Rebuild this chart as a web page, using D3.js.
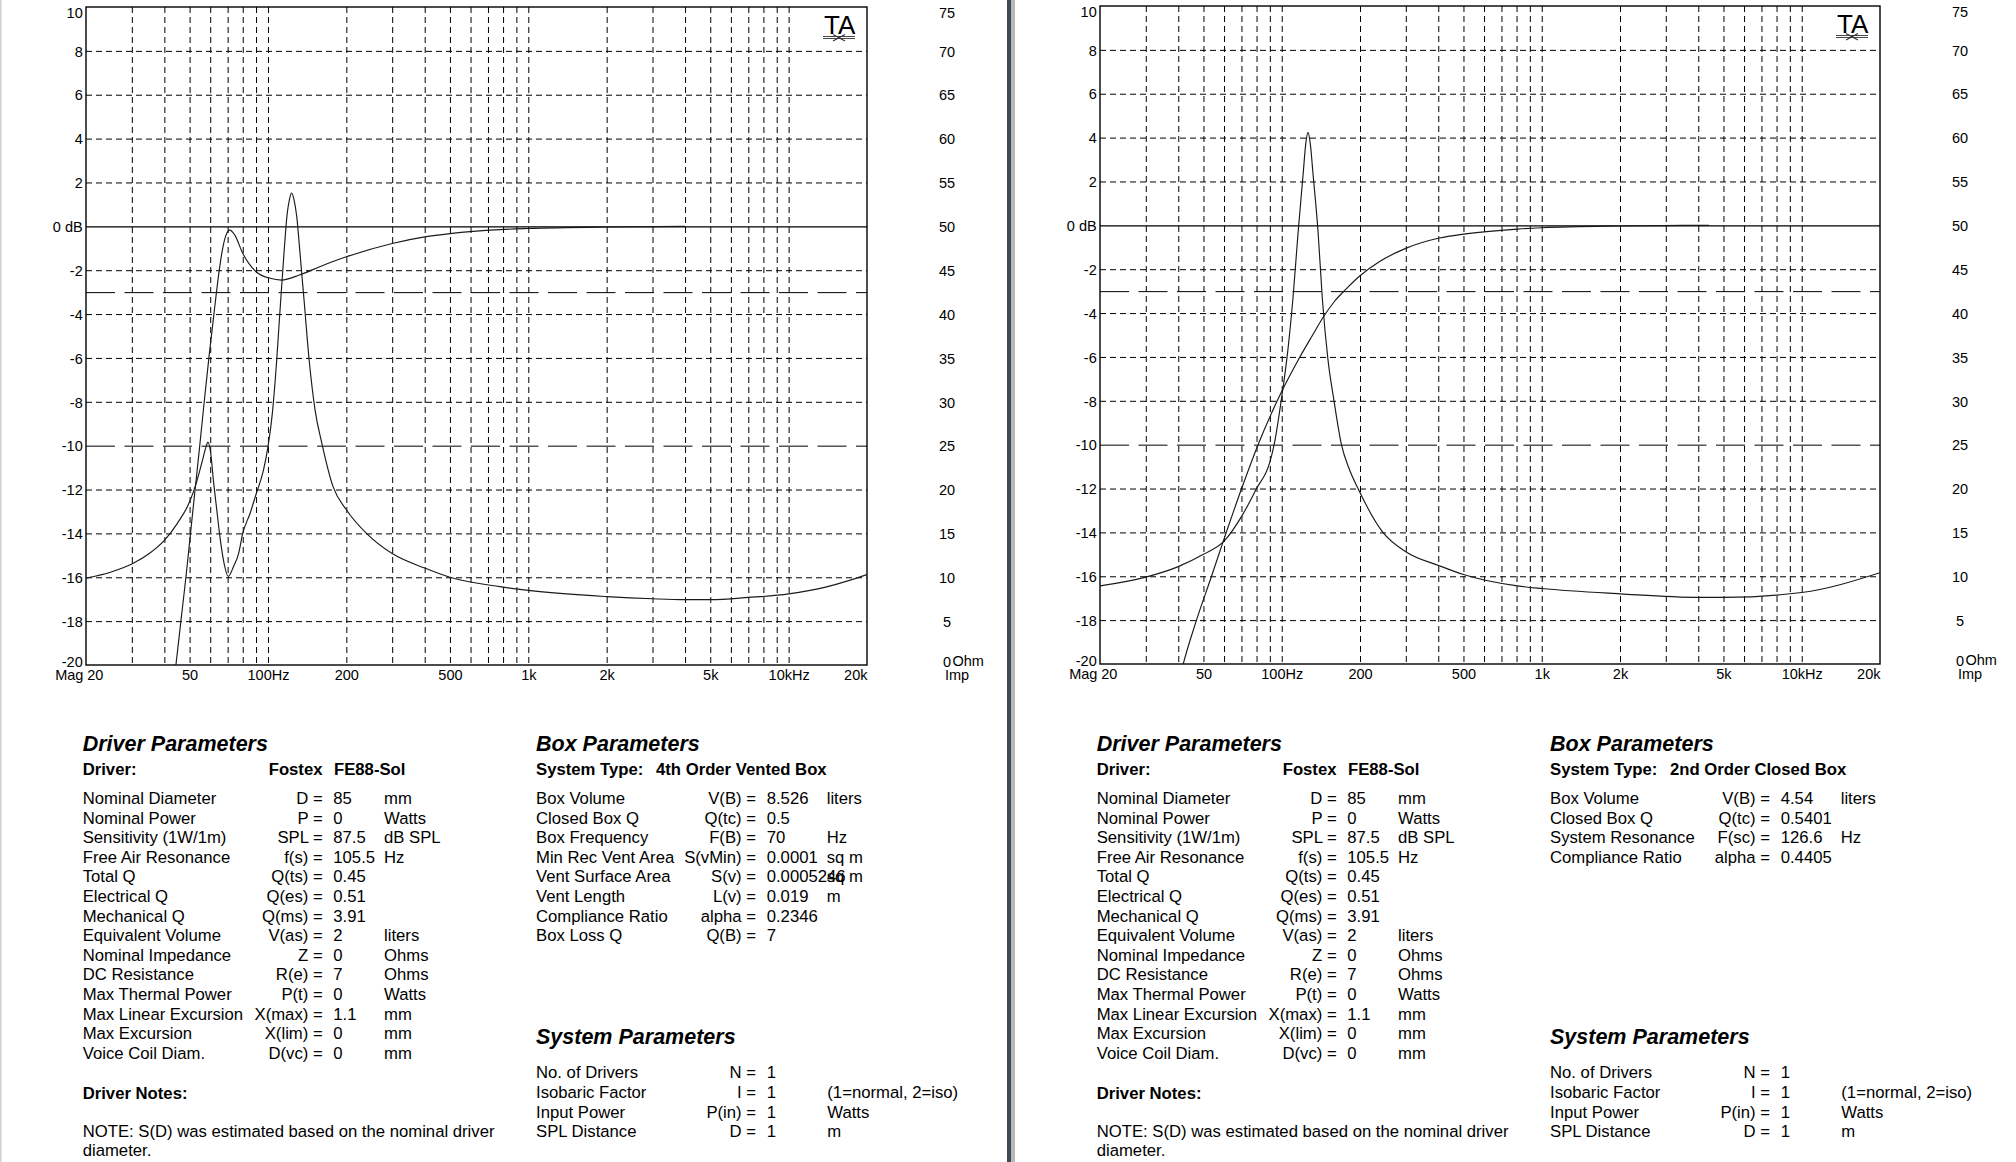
<!DOCTYPE html>
<html><head><meta charset="utf-8">
<script src="https://cdn.jsdelivr.net/npm/d3@7"></script>
<style>
html,body{margin:0;padding:0;background:#fff;}
svg{display:block;}
text{font-family:"Liberation Sans",Arial,sans-serif;fill:#000;}
</style></head><body>
<svg id="c" width="2016" height="1162"></svg>
<script>
// ---------- axis / tick data ----------
const freqTickValues = [20,50,100,200,500,1000,2000,5000,10000,20000];
const freqTickLabels = ["20","50","100Hz","200","500","1k","2k","5k","10kHz","20k"];
const freqGridValues = [30,40,50,60,70,80,90,100,200,300,400,500,600,700,800,900,1000,2000,3000,4000,5000,6000,7000,8000,9000,10000];
const dbTickValues = [10,8,6,4,2,0,-2,-4,-6,-8,-10,-12,-14,-16,-18,-20];
const dbTickLabels = ["10","8","6","4","2","0 dB","-2","-4","-6","-8","-10","-12","-14","-16","-18","-20"];
const dbGridValues = [8,6,4,2,-2,-4,-6,-8,-12,-14,-16,-18];
const dbSolidValues = [0];
const dbLongDashValues = [-3,-10];
const ohmTickValues = [75,70,65,60,55,50,45,40,35,30,25,20,15,10,5,0];
const ohmTickLabels = ["75","70","65","60","55","50","45","40","35","30","25","20","15","10","5","0"];

// ---------- series: 4th order vented box ----------
const ventedSplFreq = [42.3,44.3,46.3,48.4,50.4,52.5,54.7,56.9,59.3,62.0,65.0,67.0,69.0,71.4,74.6,80,90,102,112.7,132,158,200,300,400,500,778,1000,2000,4000];
const ventedSplDb   = [-22,-20,-18,-16,-14,-12,-10,-8,-6,-4,-2,-1.0,-0.4,-0.17,-0.4,-1.23,-2.07,-2.37,-2.45,-2.22,-1.84,-1.39,-0.78,-0.48,-0.33,-0.15,-0.1,-0.03,0];
const ventedImpFreq = [20,25,30,35,40,45,50,53,56,58,58.8,60.3,61.7,63.6,65.4,67.4,70.4,73.7,77.1,80,85.4,90.2,96.1,100,104.2,108,110.6,115.2,118.6,120.8,123.2,126,129,132.8,137.6,144,151.8,161,178,200,239,300,400,500,778,1000,2000,3000,4000,5000,7000,10000,14000,20000];
const ventedImpOhm  = [9.9,10.6,11.5,12.7,14.2,16.2,18.6,20.7,23.3,25.0,25.4,24.1,21.1,17.65,14.6,12.0,10.1,11.2,12.7,15.0,17.3,19.55,22.2,24.9,29.0,34.7,39.3,46.9,51.5,53.0,53.8,53.0,51.1,46.9,41.6,34.7,29.0,25.3,20.3,17.7,15.0,12.7,11.05,10.0,8.93,8.5,7.8,7.55,7.45,7.45,7.7,8.1,8.9,10.3];

// ---------- series: 2nd order closed box ----------
const closedSplFreq = [39,41.8,47.0,53.7,59.6,70.1,81.1,100.7,115.6,130,146,160,177,200,238,300,404,500,806,1000,2000,4400];
const closedSplDb   = [-21.5,-20,-18,-16,-14.4,-12,-10,-7.5,-6.15,-5.1,-4.1,-3.45,-2.9,-2.3,-1.65,-1.05,-0.58,-0.4,-0.17,-0.11,-0.03,0];
const closedImpFreq = [20,30,40,50,60,70,80,90,93.5,99.5,105.8,110.4,115.6,121,123.6,126.2,128.9,131.8,138,143.3,150.6,158.9,169.7,182,196.5,245,300,404,500,806,1000,2000,4000,5000,10000,20000];
const closedImpOhm  = [8.9,9.9,11.1,12.5,14.0,16.8,20.0,23.0,25.0,30.0,36.0,41.6,49.2,56.0,59.2,60.6,59.2,56.0,49.2,41.6,34.7,30.0,25.0,22.2,20.0,15.0,12.8,11.2,10.2,8.9,8.6,8.0,7.6,7.6,8.15,10.4];

// ---------- text data ----------
const driverRowLabels  = ["Nominal Diameter","Nominal Power","Sensitivity (1W/1m)","Free Air Resonance","Total Q","Electrical Q","Mechanical Q","Equivalent Volume","Nominal Impedance","DC Resistance","Max Thermal Power","Max Linear Excursion","Max Excursion","Voice Coil Diam."];
const driverRowSymbols = ["D =","P =","SPL =","f(s) =","Q(ts) =","Q(es) =","Q(ms) =","V(as) =","Z =","R(e) =","P(t) =","X(max) =","X(lim) =","D(vc) ="];
const driverRowValues  = ["85","0","87.5","105.5","0.45","0.51","3.91","2","0","7","0","1.1","0","0"];
const driverRowUnits   = ["mm","Watts","dB SPL","Hz","","","","liters","Ohms","Ohms","Watts","mm","mm","mm"];

const ventedBoxLabels  = ["Box Volume","Closed Box Q","Box Frequency","Min Rec Vent Area","Vent Surface Area","Vent Length","Compliance Ratio","Box Loss Q"];
const ventedBoxSymbols = ["V(B) =","Q(tc) =","F(B) =","S(vMin) =","S(v) =","L(v) =","alpha =","Q(B) ="];
const ventedBoxValues  = ["8.526","0.5","70","0.0001","0.0005246","0.019","0.2346","7"];
const ventedBoxUnits   = ["liters","","Hz","sq m","sq m","m","",""];

const closedBoxLabels  = ["Box Volume","Closed Box Q","System Resonance","Compliance Ratio"];
const closedBoxSymbols = ["V(B) =","Q(tc) =","F(sc) =","alpha ="];
const closedBoxValues  = ["4.54","0.5401","126.6","0.4405"];
const closedBoxUnits   = ["liters","","Hz",""];

const systemLabels  = ["No. of Drivers","Isobaric Factor","Input Power","SPL Distance"];
const systemSymbols = ["N =","I =","P(in) =","D ="];
const systemValues  = ["1","1","1","1"];
const systemUnits   = ["","(1=normal, 2=iso)","Watts","m"];

const svg = d3.select("#c");
const FONT = '"Liberation Sans",Arial,sans-serif';

// page decorations
svg.append("rect").attr("x",0).attr("y",0).attr("width",1.5).attr("height",1162).attr("fill","#cfcfcf");
svg.append("rect").attr("x",1007).attr("y",0).attr("width",4).attr("height",1162).attr("fill","#3c4b57");
svg.append("rect").attr("x",1011).attr("y",0).attr("width",4).attr("height",1162).attr("fill","#b8b8b8");

function zip(a,b){return a.map((v,i)=>({f:v,v:b[i]}));}

function drawPanel(p, idx){
  const g = svg.append("g").attr("transform",`translate(${p.ox},${p.oy})`);
  const x = d3.scaleLog().domain([20,20000]).range([0,p.w]);
  const y = d3.scaleLinear().domain([-20,10]).range([p.h,0]);
  const yO = d3.scaleLinear().domain([0,75]).range([p.h,0]);

  // vertical dashed grid
  const vg = g.append("g").call(d3.axisBottom(x).tickValues(freqGridValues).tickSize(p.h).tickFormat(""));
  vg.select(".domain").remove();
  vg.selectAll("line").attr("stroke","#000").attr("stroke-width",1).attr("stroke-dasharray","6,4");
  // horizontal dashed grid
  const hg = g.append("g").call(d3.axisLeft(y).tickValues(dbGridValues).tickSize(-p.w).tickFormat(""));
  hg.select(".domain").remove();
  hg.selectAll("line").attr("stroke","#000").attr("stroke-width",1).attr("stroke-dasharray","6,4");
  // long dash lines
  const lg = g.append("g").call(d3.axisLeft(y).tickValues(dbLongDashValues).tickSize(-p.w).tickFormat(""));
  lg.select(".domain").remove();
  lg.selectAll("line").attr("stroke","#000").attr("stroke-width",1).attr("stroke-dasharray","29,9.5");
  // solid 0 dB
  const sg = g.append("g").call(d3.axisLeft(y).tickValues(dbSolidValues).tickSize(-p.w).tickFormat(""));
  sg.select(".domain").remove();
  sg.selectAll("line").attr("stroke","#000").attr("stroke-width",1.2);

  // frame
  g.append("rect").attr("x",0).attr("y",0).attr("width",p.w).attr("height",p.h)
    .attr("fill","none").attr("stroke","#000").attr("stroke-width",1.4);

  // curves
  const cid = "clip"+idx;
  g.append("clipPath").attr("id",cid).append("rect").attr("x",0).attr("y",0).attr("width",p.w).attr("height",p.h);
  const cg = g.append("g").attr("clip-path",`url(#${cid})`);
  const lineDb = d3.line().x(d=>x(d.f)).y(d=>y(d.v)).curve(d3.curveMonotoneX);
  const lineOhm = d3.line().x(d=>x(d.f)).y(d=>yO(d.v)).curve(d3.curveMonotoneX);
  cg.append("path").attr("d",lineOhm(p.imp)).attr("fill","none").attr("stroke","#1a1a1a").attr("stroke-width",1.15);
  cg.append("path").attr("d",lineDb(p.spl)).attr("fill","none").attr("stroke","#1a1a1a").attr("stroke-width",1.15);

  // left labels
  const la = g.append("g").call(d3.axisLeft(y).tickValues(dbTickValues).tickFormat((d,i)=>dbTickLabels[i]).tickSize(0).tickPadding(3.3));
  la.attr("font-size",14.5).attr("font-family",FONT);
  la.select(".domain").remove();
  la.selectAll(".tick text").attr("fill","#000").attr("dy","0.36em")
    .attr("y",d=> d===10 ? 5.7 : (d===-20 ? -4 : 0));

  // bottom labels
  const ba = g.append("g").attr("transform",`translate(0,${p.h})`)
    .call(d3.axisBottom(x).tickValues(freqTickValues).tickFormat((d,i)=>freqTickLabels[i]).tickSize(0));
  ba.attr("font-size",14.5).attr("font-family",FONT);
  ba.select(".domain").remove();
  ba.selectAll(".tick text").attr("fill","#000").attr("dy",null).attr("y",15.4)
    .attr("text-anchor",d=> d===20 ? "start" : (d===20000 ? "end" : "middle"))
    .attr("x",d=> d===20 ? 0.8 : 0);
  g.append("text").attr("x",-2.6).attr("y",p.h+15.4).attr("text-anchor","end").attr("font-size",14.5).text("Mag");

  // right labels
  const ra = g.append("g").attr("transform",`translate(${p.w},0)`)
    .call(d3.axisRight(yO).tickValues(ohmTickValues).tickFormat((d,i)=>ohmTickLabels[i]).tickSize(0));
  ra.attr("font-size",14.5).attr("font-family",FONT);
  ra.select(".domain").remove();
  ra.selectAll(".tick text").attr("fill","#000").attr("dy","0.36em").attr("x",80).attr("text-anchor","middle")
    .attr("y",d=> d===75 ? 5.7 : (d===0 ? -4 : 0));
  g.append("text").attr("x",p.w+85.5).attr("y",p.h-4).attr("dy","0.36em").attr("font-size",14.5).text("Ohm");
  g.append("text").attr("x",p.w+78).attr("y",p.h+15.4).attr("font-size",14.5).text("Imp");

  // TA logo
  const lx = p.w-43, ly = 8;
  g.append("text").attr("x",lx).attr("y",ly+19).attr("font-family",'"Liberation Serif","Times New Roman",serif')
    .attr("font-size",26).attr("fill","#222").text("TA");
  g.append("line").attr("x1",lx-1).attr("x2",lx+31).attr("y1",ly+21.5).attr("y2",ly+21.5).attr("stroke","#333").attr("stroke-width",0.9);
  g.append("line").attr("x1",lx-1).attr("x2",lx+31).attr("y1",ly+23.5).attr("y2",ly+23.5).attr("stroke","#333").attr("stroke-width",0.9);
  g.append("line").attr("x1",lx+9).attr("x2",lx+21).attr("y1",ly+19.5).attr("y2",ly+26).attr("stroke","#333").attr("stroke-width",1.1);
  g.append("line").attr("x1",lx+9).attr("x2",lx+21).attr("y1",ly+26).attr("y2",ly+19.5).attr("stroke","#333").attr("stroke-width",1.1);
}

function drawText(t){
  const dx = t.dx;
  const g = svg.append("g").attr("transform",`translate(${dx},0)`).attr("font-family",FONT);
  const title = (x,yb,s)=> g.append("text").attr("x",x).attr("y",yb).attr("font-size",21.5)
     .attr("font-weight","bold").attr("font-style","italic").text(s);
  const bold = (x,yb,s,anchor)=> g.append("text").attr("x",x).attr("y",yb).attr("font-size",16.7)
     .attr("font-weight","bold").attr("text-anchor",anchor||"start").text(s);
  const reg = (x,yb,s,anchor)=> g.append("text").attr("x",x).attr("y",yb).attr("font-size",16.7)
     .attr("text-anchor",anchor||"start").text(s);
  const rows = (labels,syms,vals,units,lx,sx,vx,ux,y0)=>{
    labels.forEach((l,i)=>{
      const yb = y0 + i*19.6;
      reg(lx,yb,l); reg(sx,yb,syms[i],"end"); reg(vx,yb,vals[i]); if(units[i]) reg(ux,yb,units[i]);
    });
  };
  // Driver column
  title(82.7,750.5,"Driver Parameters");
  bold(82.7,775,"Driver:");
  bold(322.5,775,"Fostex","end");
  bold(334,775,"FE88-Sol");
  rows(driverRowLabels,driverRowSymbols,driverRowValues,driverRowUnits,82.7,322.7,333.3,384,804);
  bold(82.7,1098.6,"Driver Notes:");
  reg(82.7,1136.5,"NOTE: S(D) was estimated based on the nominal driver");
  reg(82.7,1155.5,"diameter.");
  // Box column
  title(536,750.5,"Box Parameters");
  bold(536,775,"System Type:");
  bold(656,775,t.systemType);
  rows(t.boxLabels,t.boxSymbols,t.boxValues,t.boxUnits,536,756,766.7,826.7,804);
  title(536,1043.5,"System Parameters");
  rows(systemLabels,systemSymbols,systemValues,systemUnits,536,756,766.7,827.3,1078.4);
}

drawPanel({ox:86, oy:7, w:781, h:658, spl:zip(ventedSplFreq,ventedSplDb), imp:zip(ventedImpFreq,ventedImpOhm)},0);
drawPanel({ox:1100, oy:6, w:780, h:658, spl:zip(closedSplFreq,closedSplDb), imp:zip(closedImpFreq,closedImpOhm)},1);

drawText({dx:0, systemType:"4th Order Vented Box", boxLabels:ventedBoxLabels, boxSymbols:ventedBoxSymbols, boxValues:ventedBoxValues, boxUnits:ventedBoxUnits});
drawText({dx:1014, systemType:"2nd Order Closed Box", boxLabels:closedBoxLabels, boxSymbols:closedBoxSymbols, boxValues:closedBoxValues, boxUnits:closedBoxUnits});
</script>
</body></html>
